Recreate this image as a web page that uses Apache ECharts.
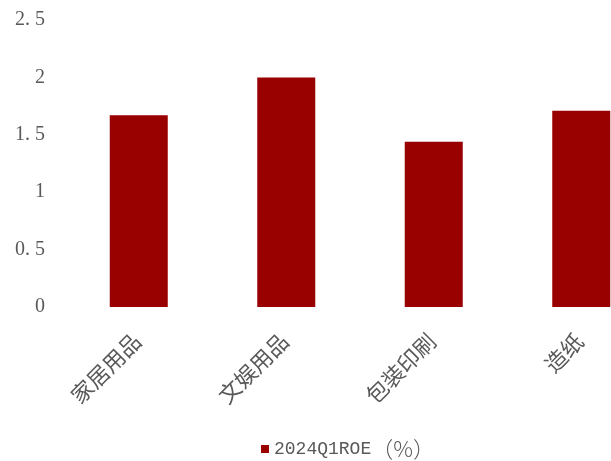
<!DOCTYPE html>
<html><head><meta charset="utf-8">
<script src="https://cdn.jsdelivr.net/npm/echarts@6/dist/echarts.min.js"></script>
<style>html,body{margin:0;padding:0;background:#fff}#c{width:611px;height:461px}</style>
</head><body><div id="c"></div>
<script>
const categories = ['家居用品','文娱用品','包装印刷','造纸'];
const roeValues = [1.67, 2.0, 1.44, 1.71];
const seriesName = '2024Q1ROE（%）';
const yTicks = {min:0, max:2.5, interval:0.5};
const serif = '"Liberation Serif","DejaVu Serif","Noto Sans CJK SC",serif';
const mono = '"Liberation Mono","Noto Sans CJK SC",monospace';
const cjk = '"Noto Sans CJK SC",sans-serif';
const chart = echarts.init(document.getElementById('c'));
chart.setOption({
  animation:false,
  grid:{left:65,width:590,top:20,height:287,containLabel:false,outerBoundsMode:'none'},
  legend:{top:433,left:256,itemWidth:8,itemHeight:8,itemGap:6,icon:'rect',
    formatter:n=>{const i=n.indexOf('（');return '{a|'+n.slice(0,i)+'}{b|'+n.slice(i)+'}';},
    textStyle:{color:'#595959',fontSize:18,fontFamily:mono,
      rich:{a:{color:'#595959',fontSize:18,fontFamily:mono},
            b:{color:'#595959',fontSize:22,fontFamily:cjk,fontWeight:300}}}},
  xAxis:{type:'category',data:categories,axisLine:{show:false},axisTick:{show:false},
    axisLabel:{rotate:45,color:'#595959',fontSize:22,fontFamily:serif,margin:32,interval:0}},
  yAxis:{type:'value',min:yTicks.min,max:yTicks.max,interval:yTicks.interval,
    splitLine:{show:false},axisLine:{show:false},axisTick:{show:false},
    axisLabel:{color:'#595959',fontSize:20,fontFamily:serif,margin:20,
      formatter:v=>String(v).replace('.','. ')}},
  series:[{name:seriesName,type:'bar',data:roeValues,barWidth:58,
    itemStyle:{color:'#990000'}}]
});
</script></body></html>
